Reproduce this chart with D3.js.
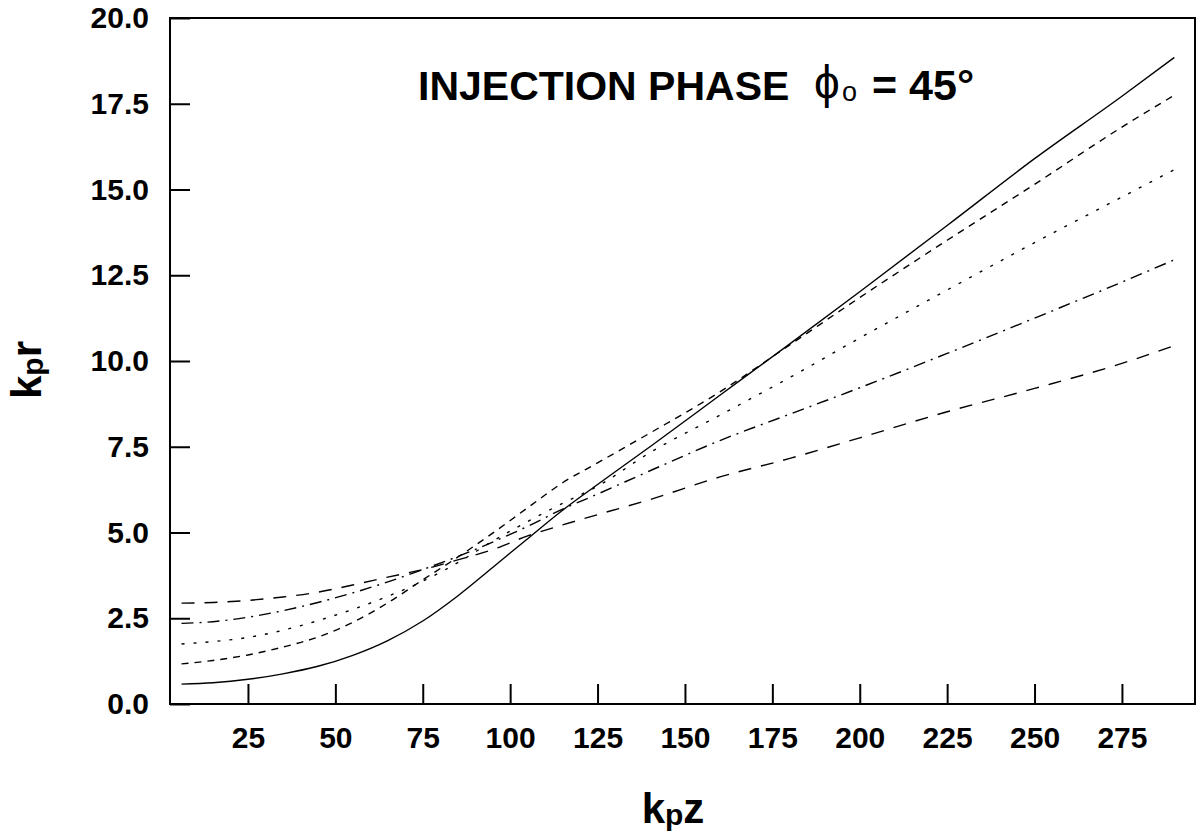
<!DOCTYPE html>
<html>
<head>
<meta charset="utf-8">
<script src="https://cdn.jsdelivr.net/npm/d3@7"></script>
<style>
  html, body { margin: 0; padding: 0; background: #fff; }
  svg { display: block; }
  text { font-family: "Liberation Sans", Arial, Helvetica, sans-serif; fill: #000; }
</style>
</head>
<body>
<svg id="chart" width="1201" height="835"></svg>
<script>
// Axial positions k_p z shared by every trajectory
const kpz = [6, 15, 25, 35, 45, 55, 65, 75, 85, 95, 105, 115, 125, 140, 160, 180, 200, 225, 250, 275, 290];

// Radial position k_p r for each initial radius
const rSolid    = [0.58, 0.62, 0.72, 0.88, 1.10, 1.42, 1.85, 2.42, 3.15, 3.98, 4.82, 5.65, 6.40, 7.50, 9.00, 10.50, 12.02, 13.95, 15.90, 17.72, 18.85];
const rDashed   = [1.17, 1.27, 1.43, 1.66, 1.95, 2.38, 2.95, 3.62, 4.28, 4.98, 5.72, 6.45, 7.03, 7.90, 9.10, 10.47, 11.85, 13.52, 15.15, 16.82, 17.75];
const rDotted   = [1.75, 1.82, 1.94, 2.15, 2.43, 2.76, 3.14, 3.58, 4.12, 4.75, 5.32, 5.85, 6.35, 7.33, 8.42, 9.52, 10.67, 12.07, 13.45, 14.78, 15.58];
const rDashDot  = [2.35, 2.40, 2.53, 2.72, 2.96, 3.24, 3.56, 3.92, 4.30, 4.72, 5.18, 5.68, 6.12, 6.80, 7.68, 8.45, 9.22, 10.22, 11.25, 12.30, 12.95];
const rLongDash = [2.94, 2.96, 3.02, 3.12, 3.26, 3.47, 3.70, 3.92, 4.20, 4.50, 4.90, 5.22, 5.52, 5.96, 6.62, 7.16, 7.76, 8.52, 9.20, 9.93, 10.45];

// Tick values
const xTicks = [25, 50, 75, 100, 125, 150, 175, 200, 225, 250, 275];
const yTicks = [0, 2.5, 5, 7.5, 10, 12.5, 15, 17.5, 20];

const series = [
  { values: rSolid,    dash: null },
  { values: rDashed,   dash: "7,6" },
  { values: rDotted,   dash: "3,9" },
  { values: rDashDot,  dash: "12,6,2,6" },
  { values: rLongDash, dash: "13,10" }
];

const svg = d3.select("#chart");
const plotLeft = 170, plotRight = 1195, plotTop = 18, plotBottom = 704;

const x = d3.scaleLinear().domain([2.7, 295.9]).range([plotLeft, plotRight]);
const y = d3.scaleLinear().domain([0, 20]).range([plotBottom, plotTop]);

// Curves
const line = d3.line()
  .x((d, i) => x(kpz[i]))
  .y(d => y(d))
  .curve(d3.curveMonotoneX);

svg.append("g")
  .selectAll("path")
  .data(series)
  .join("path")
  .attr("d", d => line(d.values))
  .attr("fill", "none")
  .attr("stroke", "#000")
  .attr("stroke-width", 1.4)
  .attr("stroke-dasharray", d => d.dash);

// Axes with inward ticks
const xAxis = d3.axisBottom(x)
  .tickValues(xTicks)
  .tickSize(-20)
  .tickPadding(23)
  .tickFormat(d3.format("d"));

const yAxis = d3.axisLeft(y)
  .tickValues(yTicks)
  .tickSize(-20)
  .tickPadding(21)
  .tickFormat(d3.format(".1f"));

const gx = svg.append("g").attr("transform", `translate(0,${plotBottom})`).call(xAxis);
const gy = svg.append("g").attr("transform", `translate(${plotLeft},0)`).call(yAxis);

[gx, gy].forEach(g => {
  g.select(".domain").remove();
  g.selectAll(".tick line").attr("stroke", "#000").attr("stroke-width", 2);
  g.selectAll(".tick text")
    .attr("font-size", 30)
    .attr("font-weight", "bold")
    .attr("font-family", "'Liberation Sans', Arial, Helvetica, sans-serif")
    .attr("fill", "#000");
});

// Plot frame
svg.append("rect")
  .attr("x", plotLeft).attr("y", plotTop)
  .attr("width", plotRight - plotLeft).attr("height", plotBottom - plotTop)
  .attr("fill", "none")
  .attr("stroke", "#000")
  .attr("stroke-width", 2);

// Title
const title = svg.append("g").attr("font-weight", "bold");
title.append("text")
  .attr("x", 418).attr("y", 100)
  .attr("font-size", 41)
  .text("INJECTION PHASE");
title.append("text")
  .attr("x", 827).attr("y", 98)
  .attr("text-anchor", "middle")
  .attr("font-weight", "normal")
  .attr("font-family", "'DejaVu Sans', sans-serif")
  .attr("font-size", 46)
  .text("ϕ");
title.append("text")
  .attr("x", 842).attr("y", 101)
  .attr("font-weight", "normal")
  .attr("font-size", 27)
  .text("o");
title.append("text")
  .attr("x", 872).attr("y", 100)
  .attr("font-size", 43)
  .text("= 45°");

// Axis titles
const xTitle = svg.append("text")
  .attr("x", 673).attr("y", 823)
  .attr("text-anchor", "middle")
  .attr("font-weight", "bold");
xTitle.append("tspan").attr("font-size", 42).text("k");
xTitle.append("tspan").attr("font-size", 30).attr("dy", 2).text("p");
xTitle.append("tspan").attr("font-size", 42).attr("dy", -2).text("z");

const yTitle = svg.append("text")
  .attr("transform", "translate(41,370) rotate(-90)")
  .attr("text-anchor", "middle")
  .attr("font-weight", "bold");
yTitle.append("tspan").attr("font-size", 42).text("k");
yTitle.append("tspan").attr("font-size", 30).attr("dy", 2).text("p");
yTitle.append("tspan").attr("font-size", 42).attr("dy", -2).text("r");
</script>
</body>
</html>
